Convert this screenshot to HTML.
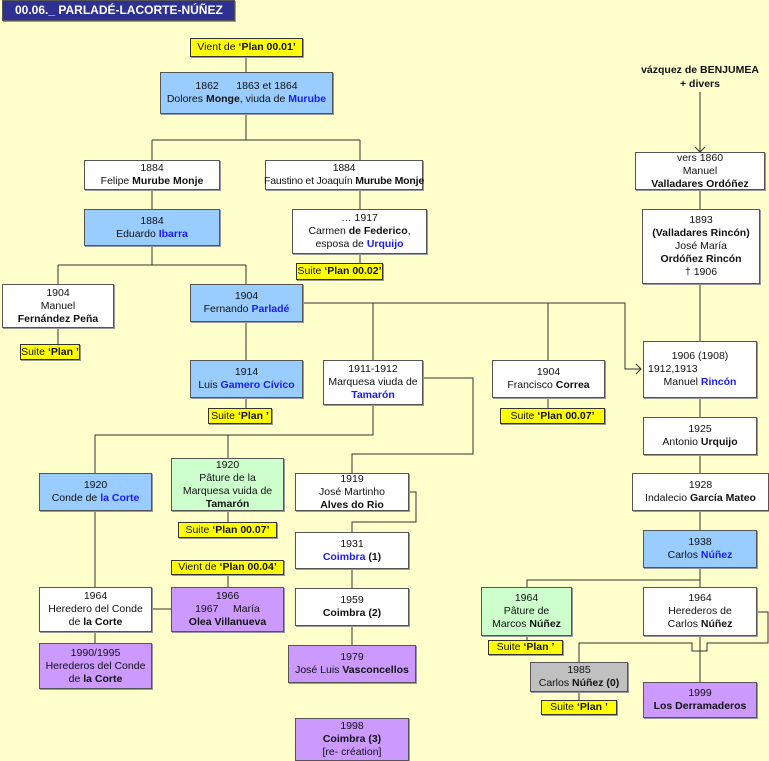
<!DOCTYPE html>
<html><head><meta charset="utf-8"><style>
body{margin:0;width:769px;height:761px;background:#ffffcc;position:relative;overflow:hidden;font-family:"Liberation Sans",Arial,sans-serif;font-size:10.5px;color:#111}
.b{position:absolute;box-sizing:border-box;border:1px solid #555;display:flex;flex-direction:column;justify-content:center;align-items:center;text-align:center;line-height:13px;box-shadow:1px 1px 0 #999;white-space:nowrap}
.b span,.b b{white-space:nowrap}
.w{background:#fff}.bl{background:#99ccff}.g{background:#ccffcc}.p{background:#cc99ff}.gr{background:#c0c0c0}.y{background:#ffff00;border-color:#333}
.u{color:#1a1aff;font-weight:bold}
b{font-weight:bold}
svg{position:absolute;left:0;top:0}
</style></head><body>
<svg width="769" height="761" fill="none" stroke="#333" stroke-width="1">
<path d="M246 57V72M246 114V140M152 140H360M152 140V160M360 140V160M152 190V209M360 190V209M360 254V263M152 246V265M58 265H246M58 265V284M246 265V284M58 328V344M246 322V360M246 398V408M303 303H625V369H641M373 303V360M548 303V360M548 398V408"/>
<path d="M636 364L641 369L636 374"/>
<path d="M700 92V152M695 147L700 152L705 147M700 190V209M700 284V341M700 398V417M700 455V473M700 511V530M700 568V587M700 580H527V587M527 636V640M700 636V682M757 612H768V643H707V651H692V643H579V662M579 692V700"/>
<path d="M373 405V435H95V473M228 435V458M228 511V522M423 378H473V454H352V473M409 492H416V522H352V532M352 569V588M352 626V645M95 511V587M95 632V643M152 609H171M228 575V587"/>
</svg>
<div class="b" style="left:2px;top:0;width:233px;height:21px;background:#2e3192;color:#fff;font-weight:bold;font-size:12px;align-items:flex-start;padding-left:12px">00.06._ PARLADÉ-LACORTE-NÚÑEZ</div>
<div class="b y" style="left:190px;top:38px;width:113px;height:19px">
<span>Vient de <b>‘Plan 00.01’</b></span></div>
<div class="b bl" style="left:160px;top:72px;width:173px;height:42px"><span>1862&nbsp;&nbsp;&nbsp;&nbsp;&nbsp; 1863 et 1864</span><span>Dolores <b>Monge</b>, viuda de <span class="u">Murube</span></span></div>
<div class="b w" style="left:84px;top:160px;width:136px;height:30px"><span>1884</span><span>Felipe <b>Murube Monje</b></span></div>
<div class="b w" style="left:265px;top:160px;width:158px;height:30px;letter-spacing:-0.2px"><span>1884</span><span>Faustino et Joaquín <b>Murube Monje</b></span></div>
<div class="b bl" style="left:84px;top:209px;width:136px;height:37px"><span>1884</span><span>Eduardo <span class="u">Ibarra</span></span></div>
<div class="b w" style="left:292px;top:209px;width:135px;height:45px"><span>… 1917</span><span>Carmen <b>de Federico</b>,</span><span>esposa de <span class="u">Urquijo</span></span></div>
<div class="b y" style="left:296px;top:263px;width:87px;height:17px"><span>Suite <b>‘Plan 00.02’</b></span></div>
<div class="b w" style="left:2px;top:284px;width:112px;height:44px"><span>1904</span><span>Manuel</span><b>Fernández Peña</b></div>
<div class="b y" style="left:20px;top:344px;width:60px;height:16px"><span>Suite <b>‘Plan ’</b></span></div>
<div class="b bl" style="left:190px;top:284px;width:113px;height:38px"><span>1904</span><span>Fernando <span class="u">Parladé</span></span></div>
<div class="b bl" style="left:190px;top:360px;width:113px;height:38px"><span>1914</span><span>Luis <span class="u">Gamero Cívico</span></span></div>
<div class="b y" style="left:208px;top:408px;width:64px;height:16px"><span>Suite <b>‘Plan ’</b></span></div>
<div class="b w" style="left:323px;top:360px;width:100px;height:45px"><span>1911-1912</span><span>Marquesa viuda de</span><span class="u">Tamarón</span></div>
<div class="b w" style="left:492px;top:360px;width:113px;height:38px"><span>1904</span><span>Francisco <b>Correa</b></span></div>
<div class="b y" style="left:500px;top:408px;width:105px;height:16px"><span>Suite <b>‘Plan 00.07’</b></span></div>
<div style="position:absolute;left:630px;top:63px;width:140px;text-align:center;font-weight:bold;line-height:14px">vázquez de BENJUMEA<br>+ divers</div>
<div class="b w" style="left:635px;top:152px;width:130px;height:38px"><span>vers 1860</span><span>Manuel</span><b>Valladares Ordóñez</b></div>
<div class="b w" style="left:642px;top:209px;width:118px;height:75px"><span>1893</span><b>(Valladares Rincón)</b><span>José María</span><b>Ordóñez Rincón</b><span>† 1906</span></div>
<div class="b w" style="left:643px;top:341px;width:114px;height:57px"><span>1906 (1908)</span><span style="align-self:flex-start;padding-left:4px">1912,1913</span><span>Manuel <span class="u">Rincón</span></span></div>
<div class="b w" style="left:643px;top:417px;width:114px;height:38px"><span>1925</span><span>Antonio <b>Urquijo</b></span></div>
<div class="b w" style="left:632px;top:473px;width:137px;height:38px"><span>1928</span><span>Indalecio <b>García Mateo</b></span></div>
<div class="b bl" style="left:643px;top:530px;width:114px;height:38px"><span>1938</span><span>Carlos <span class="u">Núñez</span></span></div>
<div class="b g" style="left:481px;top:587px;width:91px;height:49px"><span>1964</span><span>Pâture de</span><span>Marcos <b>Núñez</b></span></div>
<div class="b y" style="left:488px;top:640px;width:75px;height:15px"><span>Suite <b>‘Plan ’</b></span></div>
<div class="b w" style="left:643px;top:587px;width:114px;height:49px"><span>1964</span><span>Herederos de</span><span>Carlos <b>Núñez</b></span></div>
<div class="b gr" style="left:530px;top:662px;width:98px;height:30px"><span>1985</span><span>Carlos <b>Núñez (0)</b></span></div>
<div class="b y" style="left:541px;top:700px;width:76px;height:15px"><span>Suite <b>‘Plan ’</b></span></div>
<div class="b p" style="left:643px;top:682px;width:114px;height:36px"><span>1999</span><b>Los Derramaderos</b></div>
<div class="b bl" style="left:39px;top:473px;width:113px;height:38px"><span>1920</span><span>Conde de <span class="u">la Corte</span></span></div>
<div class="b g" style="left:171px;top:458px;width:113px;height:53px"><span>1920</span><span>Pâture de la</span><span>Marquesa vuida de</span><b>Tamarón</b></div>
<div class="b y" style="left:178px;top:522px;width:99px;height:16px"><span>Suite <b>‘Plan 00.07’</b></span></div>
<div class="b w" style="left:295px;top:473px;width:114px;height:38px"><span>1919</span><span>José Martinho</span><b>Alves do Rio</b></div>
<div class="b w" style="left:295px;top:532px;width:114px;height:37px"><span>1931</span><span><span class="u">Coimbra</span> <b>(1)</b></span></div>
<div class="b w" style="left:295px;top:588px;width:114px;height:38px"><span>1959</span><b>Coimbra (2)</b></div>
<div class="b p" style="left:288px;top:645px;width:128px;height:38px"><span>1979</span><span>José Luis <b>Vasconcellos</b></span></div>
<div class="b p" style="left:295px;top:718px;width:114px;height:43px"><span>1998</span><b>Coimbra (3)</b><span>[re- création]</span></div>
<div class="b y" style="left:171px;top:560px;width:113px;height:15px"><span>Vient de <b>‘Plan 00.04’</b></span></div>
<div class="b p" style="left:171px;top:587px;width:113px;height:45px"><span>1966</span><span>1967&nbsp;&nbsp;&nbsp;&nbsp; María</span><b>Olea Villanueva</b></div>
<div class="b w" style="left:39px;top:587px;width:113px;height:45px"><span>1964</span><span>Heredero del Conde</span><span>de <b>la Corte</b></span></div>
<div class="b p" style="left:39px;top:643px;width:113px;height:46px"><span>1990/1995</span><span>Herederos del Conde</span><span>de <b>la Corte</b></span></div>
</body></html>
